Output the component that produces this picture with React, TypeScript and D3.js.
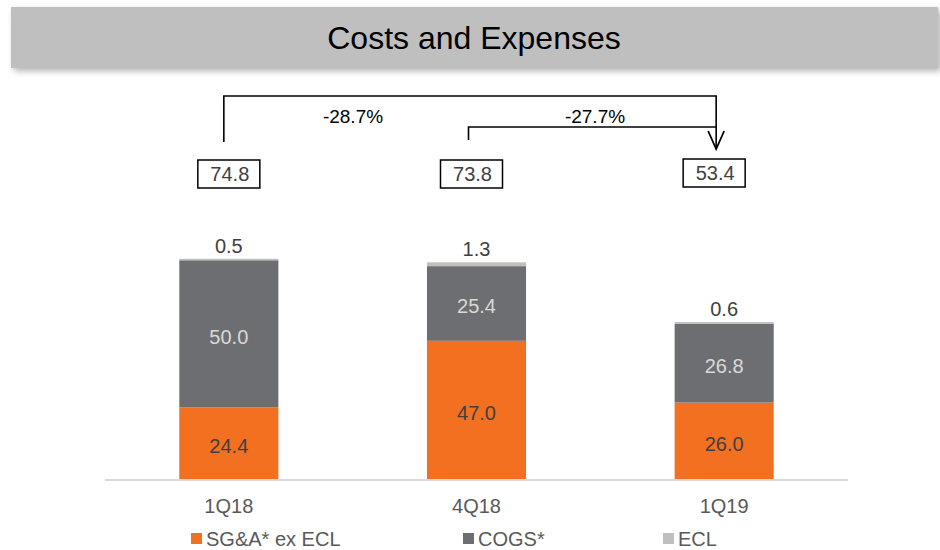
import * as d3 from 'd3';
import { useRef, useEffect } from 'react';

const categories = ['1Q18', '4Q18', '1Q19'];
const sgaExEcl = [24.4, 47.0, 26.0];
const cogs = [50.0, 25.4, 26.8];
const ecl = [0.5, 1.3, 0.6];
const totals = [74.8, 73.8, 53.4];
const changes = [
  { from: 0, to: 2, label: '-28.7%' },
  { from: 1, to: 2, label: '-27.7%' },
];
const seriesNames = ['SG&A* ex ECL', 'COGS*', 'ECL'];

const W = 940;
const H = 550;
const FONT = '"Liberation Sans", Arial, sans-serif';
const colors = ['#f37021', '#6d6e71', '#bfbfbf'];
const labelColors = ['#404040', '#d9d9d9'];

export default function App() {
  const svgRef = useRef<SVGSVGElement>(null);

  useEffect(() => {
    const svg = d3.select(svgRef.current);
    svg.selectAll('*').remove();

    const x = d3.scaleBand().domain(categories).range([105, 848]).paddingInner(0.6).paddingOuter(0.3);
    const y = d3.scaleLinear().domain([0, 80]).range([479, 479 - 80 * 2.94]);
    const cx = (i: number) => (x(categories[i]) as number) + x.bandwidth() / 2;

    // title bar with soft shadow
    const defs = svg.append('defs');
    const f = defs.append('filter').attr('id', 'shadow').attr('x', '-5%').attr('y', '-30%').attr('width', '110%').attr('height', '160%');
    f.append('feDropShadow').attr('dx', 3).attr('dy', 3).attr('stdDeviation', 3).attr('flood-color', '#000').attr('flood-opacity', 0.3);

    svg.append('rect')
      .attr('x', 11).attr('y', 7).attr('width', 927).attr('height', 61)
      .attr('fill', '#bfbfbf')
      .attr('filter', 'url(#shadow)');
    svg.append('text')
      .attr('x', 474).attr('y', 49)
      .attr('text-anchor', 'middle')
      .style('font-family', FONT).style('font-size', '32px').style('fill', '#000')
      .text('Costs and Expenses');

    // stacked data
    const rows = categories.map((c, i) => ({ cat: c, sga: sgaExEcl[i], cogs: cogs[i], ecl: ecl[i] }));
    const stack = d3.stack<any>().keys(['sga', 'cogs', 'ecl'])(rows);

    const g = svg.append('g');
    stack.forEach((layer, li) => {
      g.selectAll(`.seg-${li}`)
        .data(layer)
        .join('rect')
        .attr('class', `seg-${li}`)
        .attr('x', d => x(d.data.cat) as number)
        .attr('y', d => y(d[1]))
        .attr('width', x.bandwidth())
        .attr('height', d => y(d[0]) - y(d[1]))
        .attr('fill', colors[li]);
    });

    // segment labels inside (SG&A, COGS)
    stack.slice(0, 2).forEach((layer, li) => {
      g.selectAll(`.lab-${li}`)
        .data(layer)
        .join('text')
        .attr('class', `lab-${li}`)
        .attr('x', d => (x(d.data.cat) as number) + x.bandwidth() / 2)
        .attr('y', d => (y(d[0]) + y(d[1])) / 2 + 10)
        .attr('text-anchor', 'middle')
        .style('font-family', FONT).style('font-size', '20px')
        .style('fill', labelColors[li])
        .text(d => (d[1] - d[0]).toFixed(1));
    });

    // ECL labels above bars
    g.selectAll('.lab-ecl')
      .data(stack[2])
      .join('text')
      .attr('class', 'lab-ecl')
      .attr('x', d => (x(d.data.cat) as number) + x.bandwidth() / 2)
      .attr('y', d => y(d[1]) - 6)
      .attr('text-anchor', 'middle')
      .style('font-family', FONT).style('font-size', '20px')
      .style('fill', '#404040')
      .text(d => (d[1] - d[0]).toFixed(1));

    // baseline
    svg.append('line')
      .attr('x1', 105).attr('x2', 848).attr('y1', 480).attr('y2', 480)
      .attr('stroke', '#d9d9d9').attr('stroke-width', 2);

    // category labels
    svg.selectAll('.cat')
      .data(categories)
      .join('text')
      .attr('class', 'cat')
      .attr('x', (d, i) => cx(i))
      .attr('y', 513)
      .attr('text-anchor', 'middle')
      .style('font-family', FONT).style('font-size', '20px').style('fill', '#595959')
      .text(d => d);

    // total boxes
    const boxDx = [0, -5, -10];
    const boxY = [160, 160, 159];
    const bw = 62, bh = 28;
    totals.forEach((t, i) => {
      const bx = cx(i) + boxDx[i];
      svg.append('rect')
        .attr('x', bx - bw / 2).attr('y', boxY[i]).attr('width', bw).attr('height', bh)
        .attr('fill', '#fff').attr('stroke', '#000').attr('stroke-width', 1.5);
      svg.append('text')
        .attr('x', bx + 1).attr('y', boxY[i] + 21)
        .attr('text-anchor', 'middle')
        .style('font-family', FONT).style('font-size', '20px').style('fill', '#404040')
        .text(t.toFixed(1));
    });

    // change brackets
    const legX = [cx(0) - 5, cx(1) - 8, cx(2) - 8];
    const bracketTop = [96, 127];
    const legBottom = [142, 140];
    const labelX = [353, 595];
    changes.forEach((c, k) => {
      const x1 = legX[c.from];
      const x2 = legX[c.to];
      const yt = bracketTop[k];
      const path = k === 0
        ? `M${x1},${legBottom[k]}V${yt}H${x2}V149`
        : `M${x1},${legBottom[k]}V${yt}H${x2}`;
      svg.append('path')
        .attr('d', path)
        .attr('fill', 'none').attr('stroke', '#000').attr('stroke-width', 1.6);
      svg.append('text')
        .attr('x', labelX[k]).attr('y', 123)
        .attr('text-anchor', 'middle')
        .style('font-family', FONT).style('font-size', '19px').style('fill', '#000')
        .text(c.label);
    });
    // arrow head
    const ax = legX[2];
    svg.append('path')
      .attr('d', `M${ax - 8},${131}L${ax},${149}L${ax + 8},${131}`)
      .attr('fill', 'none').attr('stroke', '#000').attr('stroke-width', 1.8);

    // legend
    const legendX = [191, 463, 663];
    seriesNames.forEach((name, i) => {
      svg.append('rect')
        .attr('x', legendX[i]).attr('y', 533).attr('width', 11).attr('height', 11)
        .attr('fill', colors[i]);
      svg.append('text')
        .attr('x', legendX[i] + 15).attr('y', 546)
        .style('font-family', FONT).style('font-size', '20px').style('fill', '#595959')
        .text(name);
    });
  }, []);

  return (
    <svg ref={svgRef} width={W} height={H}
      style={{ position: 'absolute', left: 0, top: 0, background: '#fff' }} />
  );
}
